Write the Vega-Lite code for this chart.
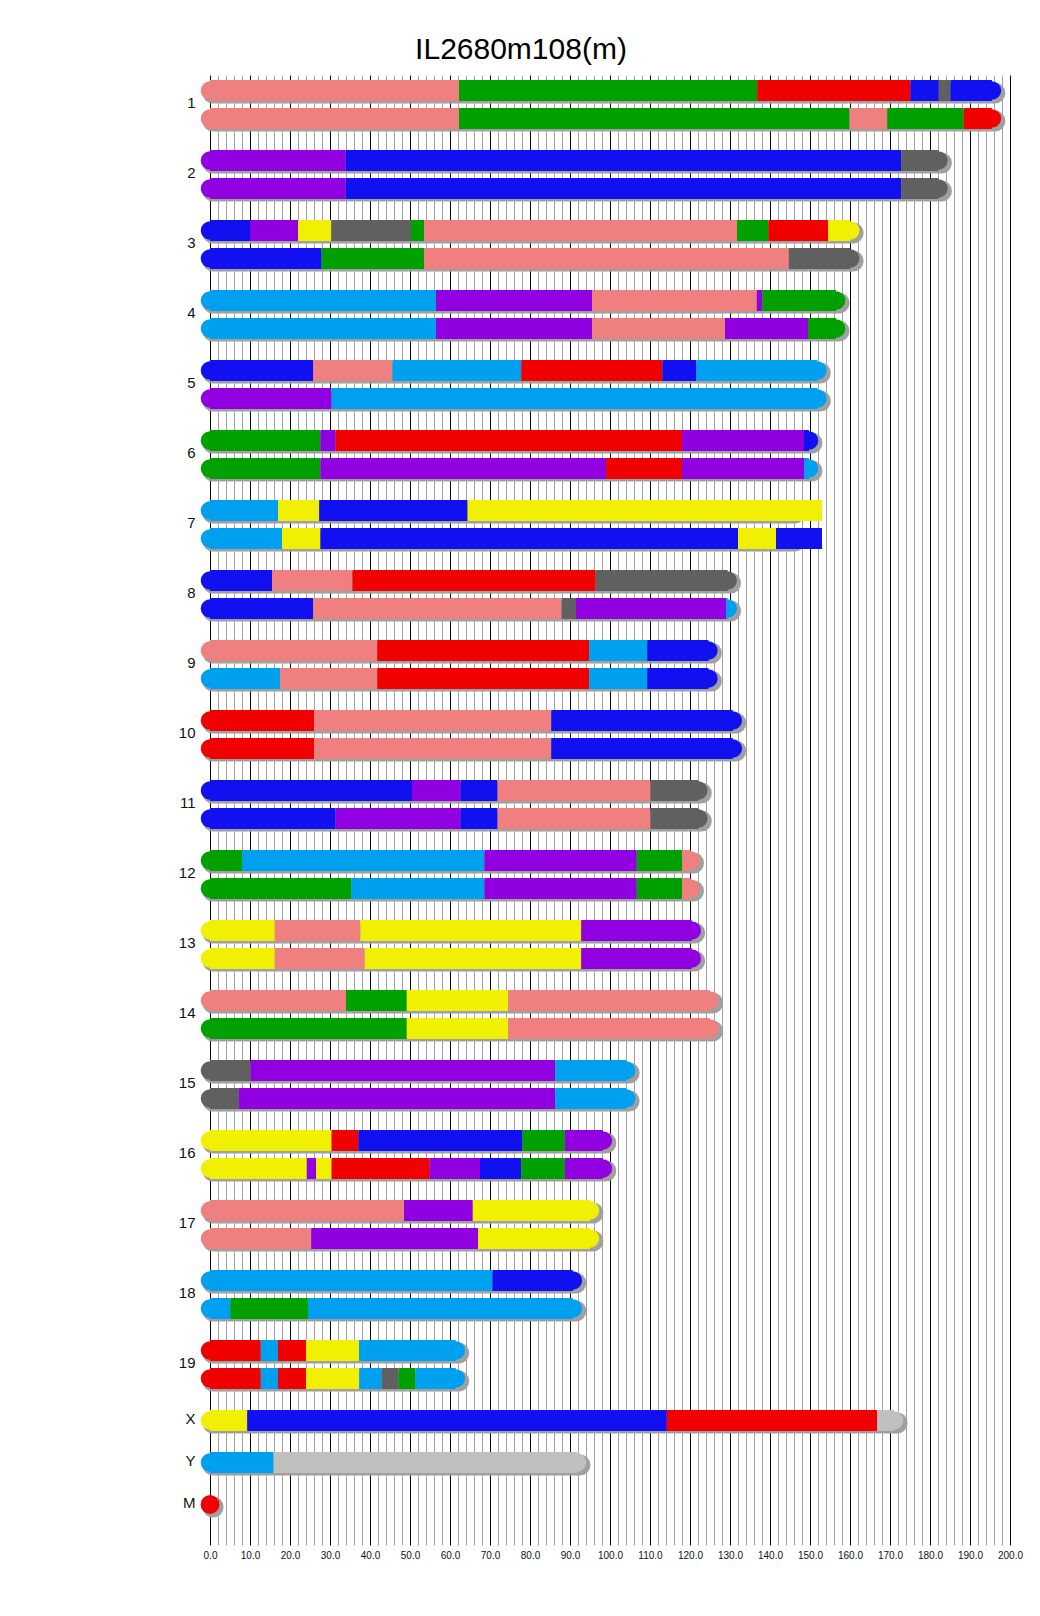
{
  "$schema": "https://vega.github.io/schema/vega-lite/v6.json",
  "width": 800,
  "height": 1470,
  "autosize": {"type": "none"},
  "padding": {"left": 210, "top": 75, "right": 30, "bottom": 71},
  "background": "white",
  "title": {"text": "IL2680m108(m)", "fontSize": 30, "font": "Liberation Sans", "fontWeight": "normal", "color": "black", "anchor": "middle", "dx": -89, "offset": 10},
  "config": {"view": {"stroke": null}},
  "datasets": {
    "trk": [
      {"t": "1_a", "s": 0, "len": 195.47}, {"t": "1_b", "s": 0, "len": 195.47},
      {"t": "2_a", "s": 0, "len": 182.11}, {"t": "2_b", "s": 0, "len": 182.11},
      {"t": "3_a", "s": 0, "len": 160.04}, {"t": "3_b", "s": 0, "len": 160.04},
      {"t": "4_a", "s": 0, "len": 156.51}, {"t": "4_b", "s": 0, "len": 156.51},
      {"t": "5_a", "s": 0, "len": 151.83}, {"t": "5_b", "s": 0, "len": 151.83},
      {"t": "6_a", "s": 0, "len": 149.74}, {"t": "6_b", "s": 0, "len": 149.74},
      {"t": "7_a", "s": 0, "len": 145.44}, {"t": "7_b", "s": 0, "len": 145.44},
      {"t": "8_a", "s": 0, "len": 129.4}, {"t": "8_b", "s": 0, "len": 129.4},
      {"t": "9_a", "s": 0, "len": 124.6}, {"t": "9_b", "s": 0, "len": 124.6},
      {"t": "10_a", "s": 0, "len": 130.69}, {"t": "10_b", "s": 0, "len": 130.69},
      {"t": "11_a", "s": 0, "len": 122.08}, {"t": "11_b", "s": 0, "len": 122.08},
      {"t": "12_a", "s": 0, "len": 120.13}, {"t": "12_b", "s": 0, "len": 120.13},
      {"t": "13_a", "s": 0, "len": 120.42}, {"t": "13_b", "s": 0, "len": 120.42},
      {"t": "14_a", "s": 0, "len": 124.9}, {"t": "14_b", "s": 0, "len": 124.9},
      {"t": "15_a", "s": 0, "len": 104.04}, {"t": "15_b", "s": 0, "len": 104.04},
      {"t": "16_a", "s": 0, "len": 98.21}, {"t": "16_b", "s": 0, "len": 98.21},
      {"t": "17_a", "s": 0, "len": 94.99}, {"t": "17_b", "s": 0, "len": 94.99},
      {"t": "18_a", "s": 0, "len": 90.7}, {"t": "18_b", "s": 0, "len": 90.7},
      {"t": "19_a", "s": 0, "len": 61.43}, {"t": "19_b", "s": 0, "len": 61.43},
      {"t": "X", "s": 0, "len": 171.03}, {"t": "Y", "s": 0, "len": 91.74}, {"t": "M", "s": 0, "len": 0.016}
    ],
    "seg": [
      {"t": "1_a", "s": 0, "e": 62.25, "f": "C"}, {"t": "1_a", "s": 62.25, "e": 136.8, "f": "F"}, {"t": "1_a", "s": 136.8, "e": 175.1, "f": "G"}, {"t": "1_a", "s": 175.1, "e": 182.2, "f": "D"}, {"t": "1_a", "s": 182.2, "e": 185.1, "f": "B"}, {"t": "1_a", "s": 185.1, "e": 195.47, "f": "D"},
      {"t": "1_b", "s": 0, "e": 62.25, "f": "C"}, {"t": "1_b", "s": 62.25, "e": 159.9, "f": "F"}, {"t": "1_b", "s": 159.9, "e": 169.3, "f": "C"}, {"t": "1_b", "s": 169.3, "e": 188.4, "f": "F"}, {"t": "1_b", "s": 188.4, "e": 195.47, "f": "G"},
      {"t": "2_a", "s": 0, "e": 33.9, "f": "H"}, {"t": "2_a", "s": 33.9, "e": 172.8, "f": "D"}, {"t": "2_a", "s": 172.8, "e": 182.11, "f": "B"},
      {"t": "2_b", "s": 0, "e": 33.9, "f": "H"}, {"t": "2_b", "s": 33.9, "e": 172.8, "f": "D"}, {"t": "2_b", "s": 172.8, "e": 182.11, "f": "B"},
      {"t": "3_a", "s": 0, "e": 10.0, "f": "D"}, {"t": "3_a", "s": 10.0, "e": 22.0, "f": "H"}, {"t": "3_a", "s": 22.0, "e": 30.3, "f": "A"}, {"t": "3_a", "s": 30.3, "e": 50.25, "f": "B"}, {"t": "3_a", "s": 50.25, "e": 53.5, "f": "F"}, {"t": "3_a", "s": 53.5, "e": 131.75, "f": "C"}, {"t": "3_a", "s": 131.75, "e": 139.6, "f": "F"}, {"t": "3_a", "s": 139.6, "e": 154.5, "f": "G"}, {"t": "3_a", "s": 154.5, "e": 160.04, "f": "A"},
      {"t": "3_b", "s": 0, "e": 27.9, "f": "D"}, {"t": "3_b", "s": 27.9, "e": 53.5, "f": "F"}, {"t": "3_b", "s": 53.5, "e": 144.7, "f": "C"}, {"t": "3_b", "s": 144.7, "e": 160.04, "f": "B"},
      {"t": "4_a", "s": 0, "e": 56.5, "f": "E"}, {"t": "4_a", "s": 56.5, "e": 95.5, "f": "H"}, {"t": "4_a", "s": 95.5, "e": 136.7, "f": "C"}, {"t": "4_a", "s": 136.7, "e": 138.1, "f": "H"}, {"t": "4_a", "s": 138.1, "e": 156.51, "f": "F"},
      {"t": "4_b", "s": 0, "e": 56.5, "f": "E"}, {"t": "4_b", "s": 56.5, "e": 95.5, "f": "H"}, {"t": "4_b", "s": 95.5, "e": 128.75, "f": "C"}, {"t": "4_b", "s": 128.75, "e": 149.5, "f": "H"}, {"t": "4_b", "s": 149.5, "e": 156.51, "f": "F"},
      {"t": "5_a", "s": 0, "e": 25.8, "f": "D"}, {"t": "5_a", "s": 25.8, "e": 45.6, "f": "C"}, {"t": "5_a", "s": 45.6, "e": 77.8, "f": "E"}, {"t": "5_a", "s": 77.8, "e": 113.1, "f": "G"}, {"t": "5_a", "s": 113.1, "e": 121.6, "f": "D"}, {"t": "5_a", "s": 121.6, "e": 151.83, "f": "E"},
      {"t": "5_b", "s": 0, "e": 30.4, "f": "H"}, {"t": "5_b", "s": 30.4, "e": 151.83, "f": "E"},
      {"t": "6_a", "s": 0, "e": 27.6, "f": "F"}, {"t": "6_a", "s": 27.6, "e": 31.4, "f": "H"}, {"t": "6_a", "s": 31.4, "e": 118.0, "f": "G"}, {"t": "6_a", "s": 118.0, "e": 148.5, "f": "H"}, {"t": "6_a", "s": 148.5, "e": 149.74, "f": "D"},
      {"t": "6_b", "s": 0, "e": 27.6, "f": "F"}, {"t": "6_b", "s": 27.6, "e": 99.0, "f": "H"}, {"t": "6_b", "s": 99.0, "e": 118.0, "f": "G"}, {"t": "6_b", "s": 118.0, "e": 148.5, "f": "H"}, {"t": "6_b", "s": 148.5, "e": 149.74, "f": "E"},
      {"t": "7_a", "s": 0, "e": 17.0, "f": "E"}, {"t": "7_a", "s": 17.0, "e": 27.3, "f": "A"}, {"t": "7_a", "s": 27.3, "e": 64.4, "f": "D"}, {"t": "7_a", "s": 64.4, "e": 153.0, "f": "A"},
      {"t": "7_b", "s": 0, "e": 18.0, "f": "E"}, {"t": "7_b", "s": 18.0, "e": 27.6, "f": "A"}, {"t": "7_b", "s": 27.6, "e": 132.0, "f": "D"}, {"t": "7_b", "s": 132.0, "e": 141.5, "f": "A"}, {"t": "7_b", "s": 141.5, "e": 153.0, "f": "D"},
      {"t": "8_a", "s": 0, "e": 15.5, "f": "D"}, {"t": "8_a", "s": 15.5, "e": 35.6, "f": "C"}, {"t": "8_a", "s": 35.6, "e": 96.4, "f": "G"}, {"t": "8_a", "s": 96.4, "e": 129.4, "f": "B"},
      {"t": "8_b", "s": 0, "e": 25.8, "f": "D"}, {"t": "8_b", "s": 25.8, "e": 87.9, "f": "C"}, {"t": "8_b", "s": 87.9, "e": 91.5, "f": "B"}, {"t": "8_b", "s": 91.5, "e": 129.0, "f": "H"}, {"t": "8_b", "s": 129.0, "e": 129.4, "f": "E"},
      {"t": "9_a", "s": 0, "e": 41.8, "f": "C"}, {"t": "9_a", "s": 41.8, "e": 94.8, "f": "G"}, {"t": "9_a", "s": 94.8, "e": 109.3, "f": "E"}, {"t": "9_a", "s": 109.3, "e": 124.6, "f": "D"},
      {"t": "9_b", "s": 0, "e": 17.5, "f": "E"}, {"t": "9_b", "s": 17.5, "e": 41.8, "f": "C"}, {"t": "9_b", "s": 41.8, "e": 94.8, "f": "G"}, {"t": "9_b", "s": 94.8, "e": 109.3, "f": "E"}, {"t": "9_b", "s": 109.3, "e": 124.6, "f": "D"},
      {"t": "10_a", "s": 0, "e": 26.0, "f": "G"}, {"t": "10_a", "s": 26.0, "e": 85.3, "f": "C"}, {"t": "10_a", "s": 85.3, "e": 130.69, "f": "D"},
      {"t": "10_b", "s": 0, "e": 26.0, "f": "G"}, {"t": "10_b", "s": 26.0, "e": 85.3, "f": "C"}, {"t": "10_b", "s": 85.3, "e": 130.69, "f": "D"},
      {"t": "11_a", "s": 0, "e": 50.5, "f": "D"}, {"t": "11_a", "s": 50.5, "e": 62.6, "f": "H"}, {"t": "11_a", "s": 62.6, "e": 71.9, "f": "D"}, {"t": "11_a", "s": 71.9, "e": 110.1, "f": "C"}, {"t": "11_a", "s": 110.1, "e": 122.08, "f": "B"},
      {"t": "11_b", "s": 0, "e": 31.4, "f": "D"}, {"t": "11_b", "s": 31.4, "e": 62.6, "f": "H"}, {"t": "11_b", "s": 62.6, "e": 71.9, "f": "D"}, {"t": "11_b", "s": 71.9, "e": 110.1, "f": "C"}, {"t": "11_b", "s": 110.1, "e": 122.08, "f": "B"},
      {"t": "12_a", "s": 0, "e": 8.0, "f": "F"}, {"t": "12_a", "s": 8.0, "e": 68.6, "f": "E"}, {"t": "12_a", "s": 68.6, "e": 106.7, "f": "H"}, {"t": "12_a", "s": 106.7, "e": 118.0, "f": "F"}, {"t": "12_a", "s": 118.0, "e": 120.13, "f": "C"},
      {"t": "12_b", "s": 0, "e": 35.3, "f": "F"}, {"t": "12_b", "s": 35.3, "e": 68.6, "f": "E"}, {"t": "12_b", "s": 68.6, "e": 106.7, "f": "H"}, {"t": "12_b", "s": 106.7, "e": 118.0, "f": "F"}, {"t": "12_b", "s": 118.0, "e": 120.13, "f": "C"},
      {"t": "13_a", "s": 0, "e": 16.2, "f": "A"}, {"t": "13_a", "s": 16.2, "e": 37.6, "f": "C"}, {"t": "13_a", "s": 37.6, "e": 92.8, "f": "A"}, {"t": "13_a", "s": 92.8, "e": 120.42, "f": "H"},
      {"t": "13_b", "s": 0, "e": 16.2, "f": "A"}, {"t": "13_b", "s": 16.2, "e": 38.7, "f": "C"}, {"t": "13_b", "s": 38.7, "e": 92.8, "f": "A"}, {"t": "13_b", "s": 92.8, "e": 120.42, "f": "H"},
      {"t": "14_a", "s": 0, "e": 34.0, "f": "C"}, {"t": "14_a", "s": 34.0, "e": 49.2, "f": "F"}, {"t": "14_a", "s": 49.2, "e": 74.5, "f": "A"}, {"t": "14_a", "s": 74.5, "e": 124.9, "f": "C"},
      {"t": "14_b", "s": 0, "e": 49.2, "f": "F"}, {"t": "14_b", "s": 49.2, "e": 74.5, "f": "A"}, {"t": "14_b", "s": 74.5, "e": 124.9, "f": "C"},
      {"t": "15_a", "s": 0, "e": 10.1, "f": "B"}, {"t": "15_a", "s": 10.1, "e": 86.3, "f": "H"}, {"t": "15_a", "s": 86.3, "e": 104.04, "f": "E"},
      {"t": "15_b", "s": 0, "e": 7.2, "f": "B"}, {"t": "15_b", "s": 7.2, "e": 86.3, "f": "H"}, {"t": "15_b", "s": 86.3, "e": 104.04, "f": "E"},
      {"t": "16_a", "s": 0, "e": 30.4, "f": "A"}, {"t": "16_a", "s": 30.4, "e": 37.1, "f": "G"}, {"t": "16_a", "s": 37.1, "e": 78.1, "f": "D"}, {"t": "16_a", "s": 78.1, "e": 88.7, "f": "F"}, {"t": "16_a", "s": 88.7, "e": 98.21, "f": "H"},
      {"t": "16_b", "s": 0, "e": 24.2, "f": "A"}, {"t": "16_b", "s": 24.2, "e": 26.5, "f": "H"}, {"t": "16_b", "s": 26.5, "e": 30.4, "f": "A"}, {"t": "16_b", "s": 30.4, "e": 54.9, "f": "G"}, {"t": "16_b", "s": 54.9, "e": 67.5, "f": "H"}, {"t": "16_b", "s": 67.5, "e": 77.8, "f": "D"}, {"t": "16_b", "s": 77.8, "e": 88.7, "f": "F"}, {"t": "16_b", "s": 88.7, "e": 98.21, "f": "H"},
      {"t": "17_a", "s": 0, "e": 48.5, "f": "C"}, {"t": "17_a", "s": 48.5, "e": 65.7, "f": "H"}, {"t": "17_a", "s": 65.7, "e": 94.99, "f": "A"},
      {"t": "17_b", "s": 0, "e": 25.3, "f": "C"}, {"t": "17_b", "s": 25.3, "e": 67.0, "f": "H"}, {"t": "17_b", "s": 67.0, "e": 94.99, "f": "A"},
      {"t": "18_a", "s": 0, "e": 70.6, "f": "E"}, {"t": "18_a", "s": 70.6, "e": 90.7, "f": "D"},
      {"t": "18_b", "s": 0, "e": 5.1, "f": "E"}, {"t": "18_b", "s": 5.1, "e": 24.5, "f": "F"}, {"t": "18_b", "s": 24.5, "e": 90.7, "f": "E"},
      {"t": "19_a", "s": 0, "e": 12.7, "f": "G"}, {"t": "19_a", "s": 12.7, "e": 17.0, "f": "E"}, {"t": "19_a", "s": 17.0, "e": 24.0, "f": "G"}, {"t": "19_a", "s": 24.0, "e": 37.25, "f": "A"}, {"t": "19_a", "s": 37.25, "e": 61.43, "f": "E"},
      {"t": "19_b", "s": 0, "e": 12.7, "f": "G"}, {"t": "19_b", "s": 12.7, "e": 17.0, "f": "E"}, {"t": "19_b", "s": 17.0, "e": 24.0, "f": "G"}, {"t": "19_b", "s": 24.0, "e": 37.3, "f": "A"}, {"t": "19_b", "s": 37.3, "e": 42.9, "f": "E"}, {"t": "19_b", "s": 42.9, "e": 47.1, "f": "B"}, {"t": "19_b", "s": 47.1, "e": 51.35, "f": "F"}, {"t": "19_b", "s": 51.35, "e": 61.43, "f": "E"},
      {"t": "X", "s": 0, "e": 9.3, "f": "A"}, {"t": "X", "s": 9.3, "e": 114.2, "f": "D"}, {"t": "X", "s": 114.2, "e": 166.8, "f": "G"}, {"t": "X", "s": 166.8, "e": 171.03, "f": "U"},
      {"t": "Y", "s": 0, "e": 15.9, "f": "E"}, {"t": "Y", "s": 15.9, "e": 91.74, "f": "U"},
      {"t": "M", "s": 0, "e": 0.016, "f": "G"}
    ]
  },
  "encoding": {
    "y": {
      "field": "t", "type": "ordinal",
      "scale": {
        "type": "band",
        "domain": ["1_a","1","1_b","1_s1","1_s2","2_a","2","2_b","2_s1","2_s2","3_a","3","3_b","3_s1","3_s2","4_a","4","4_b","4_s1","4_s2","5_a","5","5_b","5_s1","5_s2","6_a","6","6_b","6_s1","6_s2","7_a","7","7_b","7_s1","7_s2","8_a","8","8_b","8_s1","8_s2","9_a","9","9_b","9_s1","9_s2","10_a","10","10_b","10_s1","10_s2","11_a","11","11_b","11_s1","11_s2","12_a","12","12_b","12_s1","12_s2","13_a","13","13_b","13_s1","13_s2","14_a","14","14_b","14_s1","14_s2","15_a","15","15_b","15_s1","15_s2","16_a","16","16_b","16_s1","16_s2","17_a","17","17_b","17_s1","17_s2","18_a","18","18_b","18_s1","18_s2","19_a","19","19_b","19_s1","19_s2","X","X_s1","X_s2","Y","Y_s1","Y_s2","M","M_s1"],
        "paddingInner": 0, "paddingOuter": 1, "align": 0.3036
      },
      "axis": {"title": null, "domain": false, "ticks": false, "grid": false, "labelPadding": 15, "labelOffset": -2, "labelFontSize": 15, "labelFont": "Liberation Sans", "labelColor": "#111111", "labelExpr": "indexof(datum.label, '_') >= 0 ? '' : datum.label"}
    }
  },
  "layer": [
    {
      "data": {"name": "trk"},
      "mark": {"type": "rule", "strokeWidth": 21, "strokeCap": "round", "color": "#a0a0a0", "xOffset": 3, "x2Offset": 3, "yOffset": 2.5, "y2Offset": 2.5},
      "encoding": {
        "x": {"field": "s", "type": "quantitative", "scale": {"domain": [0, 200], "nice": false, "zero": false},
          "axis": {"orient": "bottom", "title": null, "tickCount": 400, "values": [0,2,4,6,8,10,12,14,16,18,20,22,24,26,28,30,32,34,36,38,40,42,44,46,48,50,52,54,56,58,60,62,64,66,68,70,72,74,76,78,80,82,84,86,88,90,92,94,96,98,100,102,104,106,108,110,112,114,116,118,120,122,124,126,128,130,132,134,136,138,140,142,144,146,148,150,152,154,156,158,160,162,164,166,168,170,172,174,176,178,180,182,184,186,188,190,192,194,196,198,200],
            "grid": true, "gridColor": {"condition": {"test": "datum.value % 10 === 0", "value": "#000000"}, "value": "#a0a0a0"}, "gridWidth": 1,
            "ticks": false, "domain": false, "labelOverlap": false, "labelFlush": false, "labelPadding": 5, "labelFontSize": 10, "labelFont": "Liberation Sans", "labelColor": "#111111",
            "labelExpr": "datum.value % 10 === 0 ? format(datum.value, '.1f') : ''"}},
        "x2": {"field": "len"}
      }
    },
    {
      "data": {"name": "seg"},
      "transform": [{"filter": "datum.s == 0"}],
      "mark": {"type": "circle", "size": 346, "opacity": 1},
      "encoding": {
        "x": {"field": "s", "type": "quantitative"},
        "color": {"field": "f", "type": "nominal", "legend": null,
          "scale": {"domain": ["A","B","C","D","E","F","G","H","U"], "range": ["#f0f000","#606060","#f08080","#1010f0","#00a0f0","#00a000","#f00000","#9000e0","#c0c0c0"]}}
      }
    },
    {
      "data": {"name": "seg"},
      "transform": [
        {"lookup": "t", "from": {"data": {"name": "trk"}, "key": "t", "fields": ["len"]}},
        {"filter": "abs(datum.e - datum.len) < 0.001"}
      ],
      "mark": {"type": "circle", "size": 346, "opacity": 1},
      "encoding": {
        "x": {"field": "e", "type": "quantitative"},
        "color": {"field": "f", "type": "nominal", "legend": null}
      }
    },
    {
      "data": {"name": "seg"},
      "mark": {"type": "rule", "strokeWidth": 21, "strokeCap": "butt"},
      "encoding": {
        "x": {"field": "s", "type": "quantitative"},
        "x2": {"field": "e"},
        "color": {"field": "f", "type": "nominal", "legend": null}
      }
    }
  ]
}
